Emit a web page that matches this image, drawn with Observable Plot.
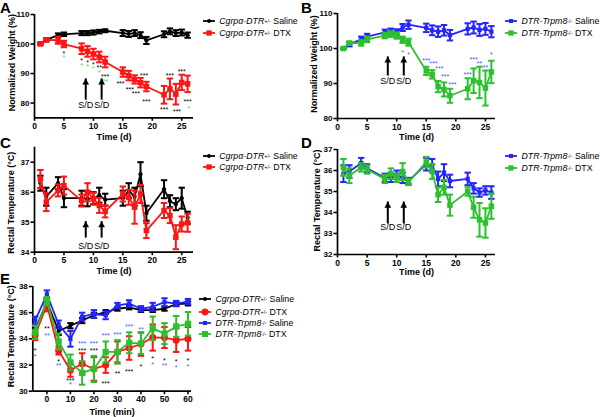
<!DOCTYPE html>
<html><head><meta charset="utf-8">
<script src="https://cdn.jsdelivr.net/npm/d3@7"></script>
<script src="https://cdn.jsdelivr.net/npm/@observablehq/plot@0.6"></script>
<style>
body{margin:0;background:#fff;font-family:"Liberation Sans",Arial,sans-serif;}
#root{position:relative;width:600px;height:417px;overflow:hidden;background:#fff;}
.letter{position:absolute;font-weight:bold;font-size:15px;line-height:15px;}
.lrow{position:absolute;white-space:nowrap;font-size:8.8px;line-height:12px;height:12px;display:flex;align-items:center;}
.lrow svg{margin-right:4.5px;}
.lrow sup{font-size:5.5px;vertical-align:3px;line-height:0;}
</style></head><body><div id="root"></div><script>
// ---------- DATA ----------
const days = [1,2,4,5,8,9,10,11,12,15,16,17,18,19,22,23,24,25,26];
const dayTicks = [0,5,10,15,20,25];
// Panel A: weight, Cgrpa-DTR
const weightCgrpSaline    = [100.2,101.4,103.0,103.3,103.7,103.7,103.9,104.2,104.5,103.7,103.4,103.7,103.0,101.2,103.3,104.3,103.7,103.9,103.0];
const weightCgrpSalineErr = [0.3,0.5,0.6,0.6,0.7,0.7,0.7,0.6,0.5,1.0,1.0,1.0,1.0,1.2,1.0,1.0,1.0,1.0,0.9];
const weightCgrpDtx       = [100.0,101.4,101.3,100.0,98.4,97.5,96.6,95.6,93.9,90.5,89.3,88.0,86.9,85.6,82.8,84.8,83.0,87.0,86.5];
const weightCgrpDtxErr    = [0.2,0.5,1.2,1.1,1.8,1.8,1.8,1.8,1.8,1.6,1.6,1.4,1.6,1.6,3.0,3.5,3.5,2.6,2.8];
// Panel B: weight, DTR-Trpm8
const weightTrpmSaline    = [100.0,101.2,102.6,103.4,104.6,104.9,104.7,106.0,106.8,105.9,105.2,104.8,105.2,103.8,105.6,106.0,105.3,105.6,104.8];
const weightTrpmSalineErr = [0.2,0.6,0.8,0.8,0.8,0.8,0.8,1.0,1.2,1.2,1.4,1.5,1.5,1.5,1.6,1.7,1.7,1.7,1.6];
const weightTrpmDtx       = [100.0,101.5,101.6,102.6,103.7,104.1,103.7,102.5,101.8,93.6,92.6,89.1,88.3,86.5,88.5,90.8,90.3,88.7,93.3];
const weightTrpmDtxErr    = [0.2,0.5,0.8,0.8,0.8,0.8,0.9,0.9,1.0,1.2,1.2,1.6,2.0,2.0,3.0,3.5,4.5,5.0,3.2];
// Panel C: rectal temperature, Cgrpa-DTR
const tempCgrpSaline    = [36.3,35.85,36.3,35.8,35.8,35.78,35.8,35.9,35.75,35.8,36.05,35.85,36.6,35.3,36.1,35.7,35.6,35.8,35.15];
const tempCgrpSalineErr = [0.25,0.3,0.2,0.3,0.25,0.25,0.2,0.25,0.2,0.25,0.25,0.3,0.4,0.25,0.3,0.2,0.2,0.35,0.2];
const tempCgrpDtx       = [36.44,35.67,36.06,36.22,35.72,36.0,35.78,35.56,35.36,35.94,35.83,35.5,35.94,34.72,35.39,35.22,34.5,34.94,34.98];
const tempCgrpDtxErr    = [0.3,0.3,0.2,0.3,0.2,0.3,0.2,0.25,0.2,0.25,0.25,0.55,0.3,0.25,0.25,0.25,0.4,0.25,0.3];
// Panel D: rectal temperature, DTR-Trpm8
const tempTrpmSaline    = [35.85,35.95,36.35,36.1,35.65,35.65,35.8,35.65,35.5,36.3,36.25,35.6,35.9,35.5,35.6,35.15,34.95,35.05,34.95];
const tempTrpmSalineErr = [0.4,0.3,0.25,0.2,0.2,0.2,0.2,0.25,0.15,0.3,0.3,0.35,0.4,0.3,0.3,0.25,0.2,0.2,0.3];
const tempTrpmDtx       = [36.15,35.75,36.15,36.05,35.6,35.85,35.65,35.95,35.45,36.4,35.95,34.85,35.2,34.35,35.0,34.25,33.65,33.5,34.3];
const tempTrpmDtxErr    = [0.4,0.35,0.2,0.2,0.2,0.25,0.2,0.4,0.15,0.25,0.35,0.35,0.35,0.5,0.2,0.5,0.8,0.7,0.6];
// Panel E: rectal temperature over minutes
const minutes = [-5,0,5,10,15,20,25,30,35,40,45,50,55,60];
const minTicks = [0,10,20,30,40,50,60];
const eCgrpSaline    = [34.7,36.8,34.6,35.0,35.4,35.8,36.05,36.3,36.4,36.2,36.2,36.3,36.65,36.7];
const eCgrpSalineErr = [0.2,0.3,0.3,0.2,0.2,0.2,0.15,0.15,0.15,0.15,0.15,0.15,0.15,0.15];
const eCgrpDtx       = [34.3,36.6,33.1,31.6,32.1,31.7,32.0,33.0,33.3,33.6,34.1,34.1,33.9,34.0];
const eCgrpDtxErr    = [0.4,0.5,0.3,0.5,0.8,0.9,0.6,0.8,0.9,0.9,1.0,0.8,0.9,0.9];
const eTrpmSaline    = [35.4,37.4,35.1,34.0,35.7,35.9,35.8,36.55,36.7,36.3,36.45,36.8,36.7,36.85];
const eTrpmSalineErr = [0.3,0.3,0.3,0.6,0.3,0.3,0.3,0.2,0.25,0.2,0.3,0.3,0.2,0.2];
const eTrpmDtx       = [34.5,36.9,33.8,32.2,31.4,31.7,33.0,33.0,33.7,33.65,34.8,34.4,34.95,35.15];
const eTrpmDtxErr    = [0.5,0.3,0.6,0.6,0.9,1.0,0.8,0.9,0.8,0.8,0.9,0.8,0.8,0.9];
// Significance stars: [x, y, text]
const starsA_black = [[5,97.3,"*"],[8,95.0,"*"],[9,94.1,"*"],[10,93.7,"*"],[11,92.4,"**"],[12,89.4,"***"],[14.6,87.1,"***"],[16.2,85.2,"***"],[17.2,83.7,"***"],[18.6,89.7,"***"],[19,80.9,"***"],[22,78.2,"***"],[23,89.7,"***"],[24.2,77.5,"***"],[25,91.2,"***"],[26,80.9,"***"]];
const starsA_green = [[5,95.8,"*"],[8,93.3,"*"],[9,92.8,"*"],[10,92.2,"*"],[11,90.8,"*"],[12,87.7,"**"],[26.2,78.8,"*"]];
const starsB_blue  = [[11,99.4,"*"],[12,98.75,"*"],[15,97.0,"***"],[16.2,96.25,"***"],[17.2,94.6,"***"],[18.2,92.5,"***"],[19.4,90.3,"***"],[22,92.9,"***"],[23,97.3,"***"],[24,96.1,"**"],[25,95.1,"**"],[26,98.75,"*"]];
const starsE_black = [[-5,33.25,"*"],[0,34.9,"**"],[5,32.4,"*"],[10,30.97,"***"],[15,33.2,"***"],[20,33.2,"***"],[25,30.7,"***"],[30,31.5,"**"],[35,31.6,"***"],[40,32.0,"*"],[45,32.6,"*"],[50,32.5,"*"],[55,32.4,"*"],[60,32.5,"*"]];
const starsE_blue  = [[-5,32.8,"*"],[0,34.35,"**"],[5,32.06,"**"],[10,30.6,"*"],[15,33.76,"***"],[20,33.76,"***"],[25,34.35,"***"],[30,34.45,"***"],[35,35.03,"***"],[40,34.85,"**"],[45,32.16,"*"],[50,32.06,"**"],[55,31.9,"*"],[60,31.98,"*"]];
// S/D arrows: x positions, arrow tip, arrow tail, label
const arrowsA = {x:[8.7,11.4], tip:88.2, tail:82.0, label:79.4};
const arrowsB = {x:[8.5,11.2], tip:97.6, tail:93.0, label:90.8};
const arrowsC = {x:[8.7,11.4], tip:35.02, tail:34.57, label:34.2};
const arrowsD = {x:[8.5,11.2], tip:34.5, tail:33.6, label:33.3};

// ---------- STYLE ----------
const BLACK="#000", RED="#ff1414", GREEN="#2cc02c", BLUE="#2424ff", LGREEN="#3ee03e", LBLUE="#3a5cff";
const FONT = "'Liberation Sans', Arial, sans-serif";
const root = document.getElementById("root");
const cap = {draw(ctx, size){ const w = Math.sqrt(size/Math.PI); ctx.moveTo(-w,0); ctx.lineTo(w,0); }};

function seriesMarks(xs, ys, es, color, symbol, r) {
  const data = xs.map((x,i)=>({x, y: ys[i], e: es[i]}));
  return [
    Plot.line(data, {x:"x", y:"y", stroke: color, strokeWidth: 1.8}),
    Plot.ruleX(data, {x:"x", y1: d=>d.y-d.e, y2: d=>d.y+d.e, stroke: color, strokeWidth: 2}),
    Plot.dot(data, {x:"x", y: d=>d.y+d.e, symbol: cap, r: 3.2, stroke: color, strokeWidth: 2, fill: "none"}),
    Plot.dot(data, {x:"x", y: d=>d.y-d.e, symbol: cap, r: 3.2, stroke: color, strokeWidth: 2, fill: "none"}),
    Plot.dot(data, {x:"x", y:"y", symbol, r, fill: color, stroke: "none"})
  ];
}
function starMarks(list, color) {
  return Plot.text(list, {x: d=>d[0], y: d=>d[1], text: d=>d[2], fill: color, fontSize: 7, dy: 1.8});
}
function arrowMarks(a) {
  const data = a.x.map(x=>({x, tip: a.tip, tail: a.tail, label: a.label}));
  return [
    Plot.ruleX(data, {x:"x", y1:"tail", y2:"tip", stroke: BLACK, strokeWidth: 2, insetTop: 3}),
    Plot.dot(data, {x:"x", y:"tip", symbol:"triangle", r: 2.5, fill: BLACK, stroke: "none", dy: 3.7}),
    Plot.text(data, {x:"x", y:"label", text: ()=>"S/D", fontSize: 9, fill: BLACK})
  ];
}
function panel(o) {
  const marks = [
    Plot.ruleX([o.xDomain[0]], {stroke: BLACK, strokeWidth: 1.7}),
    Plot.ruleY([o.yDomain[0]], {stroke: BLACK, strokeWidth: 1.7}),
    Plot.axisX({ticks: o.xTicks, tickSize: 3.5, tickPadding: 1.5, fontSize: 8.5, fontWeight: "bold", strokeWidth: 1.6, label: null, tickFormat: d=>String(d)}),
    Plot.axisY({ticks: o.yTicks, tickSize: 3.5, tickPadding: 1.5, fontSize: 8, fontWeight: "bold", strokeWidth: 1.6, label: null, tickFormat: d=>String(d)}),
    Plot.text([o.yLabel], {text: d=>d, frameAnchor: "left", textAnchor: "middle", lineAnchor: "middle", rotate: -90, dx: o.ylx, dy: o.yly, fontSize: 9, fontWeight: "bold", fill: BLACK}),
    Plot.text([o.xLabel], {text: d=>d, frameAnchor: "bottom", textAnchor: "middle", lineAnchor: "middle", dy: o.xly, fontSize: 9, fontWeight: "bold", fill: BLACK}),
    ...o.marks
  ];
  const svg = Plot.plot({
    width: o.width, height: o.height,
    marginLeft: o.ml, marginRight: o.mr, marginTop: o.mt, marginBottom: o.mb,
    x: {domain: o.xDomain, label: null, inset: 0},
    y: {domain: o.yDomain, label: null, inset: 0},
    style: {fontFamily: FONT, background: "transparent", overflow: "visible", color: BLACK},
    marks
  });
  svg.style.position = "absolute"; svg.style.left = o.left+"px"; svg.style.top = o.top+"px";
  root.appendChild(svg);
}
function letter(t, left, top) {
  const d = document.createElement("div"); d.className = "letter"; d.textContent = t;
  d.style.left = left+"px"; d.style.top = top+"px"; root.appendChild(d);
}
const symMap = {circle: d3.symbolCircle, square: d3.symbolSquare};
function legendRow(left, cy, color, sym, r, name, sup, rest) {
  const row = document.createElement("div"); row.className = "lrow";
  row.style.left = left+"px"; row.style.top = (cy-6)+"px";
  const path = d3.symbol(symMap[sym], Math.PI*r*r)();
  row.innerHTML = `<svg width="12" height="12"><line x1="0" x2="12" y1="6" y2="6" stroke="${color}" stroke-width="1.8"/><path transform="translate(6,6)" d="${path}" fill="${color}"/></svg><i>${name}</i><sup>${sup}</sup>&nbsp;${rest}`;
  root.appendChild(row);
}

// ---------- PANELS ----------
panel({left:0, top:0, width:200, height:145, ml:34, mr:7, mt:14, mb:27.7,
  xDomain:[0,27], yDomain:[75,110], xTicks: dayTicks, yTicks:[80,90,100,110],
  yLabel:"Normalized Weight (%)", xLabel:"Time (d)", ylx:-22.3, yly:-3.6, xly:19.5,
  marks:[
    ...seriesMarks(days, weightCgrpSaline, weightCgrpSalineErr, BLACK, "circle", 2.1),
    ...seriesMarks(days, weightCgrpDtx, weightCgrpDtxErr, RED, "square", 3.1),
    starMarks(starsA_black, BLACK), starMarks(starsA_green, LGREEN),
    ...arrowMarks(arrowsA)
  ]});
panel({left:300, top:0, width:200, height:145, ml:37, mr:5, mt:13, mb:27,
  xDomain:[0,26.7], yDomain:[80,110], xTicks: dayTicks, yTicks:[80,90,100,110],
  yLabel:"Normalized Weight (%)", xLabel:"Time (d)", ylx:-23, yly:-2, xly:18.7,
  marks:[
    ...seriesMarks(days, weightTrpmSaline, weightTrpmSalineErr, BLUE, "square", 2.4),
    ...seriesMarks(days, weightTrpmDtx, weightTrpmDtxErr, GREEN, "square", 3.1),
    starMarks(starsB_blue, LBLUE),
    ...arrowMarks(arrowsB)
  ]});
panel({left:0, top:135, width:200, height:145, ml:34, mr:7, mt:11.7, mb:28.3,
  xDomain:[0,27], yDomain:[34,37.5], xTicks: dayTicks, yTicks:[34,35,36,37],
  yLabel:"Rectal Temperature (°C)", xLabel:"Time (d)", ylx:-23, yly:3, xly:19.3,
  marks:[
    ...seriesMarks(days, tempCgrpSaline, tempCgrpSalineErr, BLACK, "circle", 2.1),
    ...seriesMarks(days, tempCgrpDtx, tempCgrpDtxErr, RED, "square", 3.1),
    ...arrowMarks(arrowsC)
  ]});
panel({left:300, top:135, width:200, height:145, ml:37, mr:5, mt:14, mb:26,
  xDomain:[0,26.7], yDomain:[32,37], xTicks: dayTicks, yTicks:[32,33,34,35,36,37],
  yLabel:"Rectal Temperature (°C)", xLabel:"Time (d)", ylx:-20, yly:-1.5, xly:17.7,
  marks:[
    ...seriesMarks(days, tempTrpmSaline, tempTrpmSalineErr, BLUE, "square", 2.4),
    ...seriesMarks(days, tempTrpmDtx, tempTrpmDtxErr, GREEN, "square", 3.1),
    ...arrowMarks(arrowsD)
  ]});
panel({left:0, top:270, width:200, height:147, ml:32.3, mr:9, mt:16, mb:26.3,
  xDomain:[-6,61.5], yDomain:[30,38], xTicks: minTicks, yTicks:[30,32,34,36,38],
  yLabel:"Rectal Temperature (°C)", xLabel:"Time (min)", ylx:-21.6, yly:-2.6, xly:21,
  marks:[
    ...seriesMarks(minutes, eCgrpSaline, eCgrpSalineErr, BLACK, "circle", 2.1),
    ...seriesMarks(minutes, eCgrpDtx, eCgrpDtxErr, RED, "circle", 3.5),
    ...seriesMarks(minutes, eTrpmSaline, eTrpmSalineErr, BLUE, "square", 2.4),
    ...seriesMarks(minutes, eTrpmDtx, eTrpmDtxErr, GREEN, "square", 3.5),
    starMarks(starsE_black, BLACK), starMarks(starsE_blue, LBLUE)
  ]});

// ---------- LETTERS & LEGENDS ----------
letter("A",0,0); letter("B",301,0); letter("C",0,135); letter("D",301,135); letter("E",0,271);
const CG = "Cgrpα-DTR", TR = "DTR-Trpm8";
legendRow(202.7, 21, BLACK, "circle", 2, CG, "+/-", "Saline");
legendRow(202.7, 32.7, RED, "square", 3, CG, "+/-", "DTX");
legendRow(505, 20.7, BLUE, "square", 2.3, TR, "-/-", "Saline");
legendRow(505, 32.7, GREEN, "square", 3, TR, "-/-", "DTX");
legendRow(202.7, 155.7, BLACK, "circle", 2, CG, "+/-", "Saline");
legendRow(202.7, 166.7, RED, "square", 3, CG, "+/-", "DTX");
legendRow(505, 155.7, BLUE, "square", 2.3, TR, "-/-", "Saline");
legendRow(505, 167.7, GREEN, "square", 3, TR, "-/-", "DTX");
legendRow(199, 299.3, BLACK, "circle", 2, CG, "+/-", "Saline");
legendRow(199, 311.7, RED, "circle", 3.4, CG, "+/-", "DTX");
legendRow(199, 323.3, BLUE, "square", 2.3, TR, "-/-", "Saline");
legendRow(199, 334.3, GREEN, "square", 3.4, TR, "-/-", "DTX");
</script></body></html>
